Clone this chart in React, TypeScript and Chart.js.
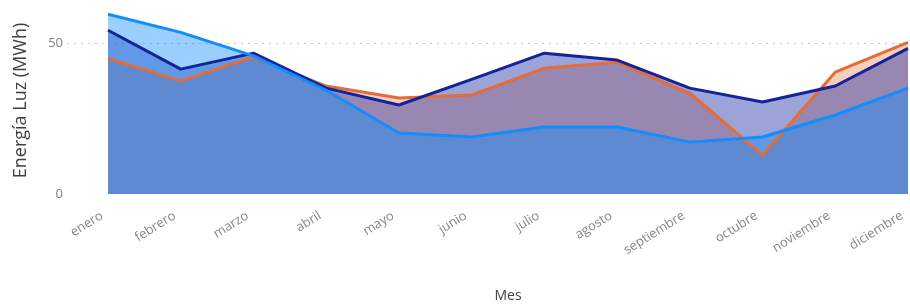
import React, { useEffect, useRef } from "react";
import { Chart, registerables } from "chart.js";

Chart.register(...registerables);

const meses = [
  "enero", "febrero", "marzo", "abril", "mayo", "junio",
  "julio", "agosto", "septiembre", "octubre", "noviembre", "diciembre",
];
const serieAzulClaro = [59.6, 53.6, 45.8, 34.4, 20.2, 18.9, 22.2, 22.2, 17.2, 18.9, 26.2, 35.1];
const serieAzulOscuro = [54.3, 41.4, 46.7, 35.1, 29.5, 38.0, 46.7, 44.4, 35.1, 30.5, 35.8, 48.3];
const serieNaranja = [45.0, 37.5, 45.4, 35.8, 31.8, 32.8, 41.7, 43.7, 33.4, 12.9, 40.4, 50.3];
const yTicks = [0, 50];

const FONT = "'Open Sans', 'Noto Sans', sans-serif";

export default function App() {
  const ref = useRef<HTMLCanvasElement | null>(null);

  useEffect(() => {
    if (!ref.current) return;
    const chart = new Chart(ref.current, {
      type: "line",
      data: {
        labels: meses,
        datasets: [
          {
            label: "Azul claro",
            data: serieAzulClaro,
            borderColor: "#118DFF",
            backgroundColor: "rgba(17,141,255,0.42)",
            fill: "origin",
            borderWidth: 3,
            pointRadius: 0,
            tension: 0,
            borderJoinStyle: "round",
          },
          {
            label: "Azul oscuro",
            data: serieAzulOscuro,
            borderColor: "#12239E",
            backgroundColor: "rgba(18,35,158,0.42)",
            fill: "origin",
            borderWidth: 3,
            pointRadius: 0,
            tension: 0,
            borderJoinStyle: "round",
          },
          {
            label: "Naranja",
            data: serieNaranja,
            borderColor: "#E66C37",
            backgroundColor: "rgba(230,108,55,0.33)",
            fill: "origin",
            borderWidth: 3,
            pointRadius: 0,
            tension: 0,
            borderJoinStyle: "round",
          },
        ],
      },
      options: {
        responsive: false,
        animation: false,
        layout: { padding: { top: 7, right: 2, left: 0, bottom: 0 } },
        plugins: {
          legend: { display: false },
          tooltip: { enabled: false },
          filler: { drawTime: "beforeDatasetsDraw" },
        },
        scales: {
          x: {
            offset: false,
            grid: { display: false },
            border: { display: false },
            ticks: {
              color: "#878787",
              font: { family: FONT, size: 13 },
              maxRotation: 32,
              minRotation: 32,
              autoSkip: false,
              padding: 6,
              labelOffset: -6,
            },
            title: {
              display: true,
              text: "Mes",
              color: "#404040",
              font: { family: FONT, size: 14 },
              padding: { top: 0, bottom: 0 },
            },
            afterFit: (s: any) => {
              s.height = 110;
              s.paddingLeft = 0;
              s.paddingRight = 0;
            },
          },
          y: {
            min: 0,
            max: 62,
            border: { display: false, dash: [2, 5] },
            grid: {
              color: (c: any) => (c.tick && c.tick.value === 50 ? "#c8c8c8" : "rgba(0,0,0,0)"),
              tickColor: (c: any) => (c.tick && c.tick.value === 50 ? "#d0d0d0" : "rgba(0,0,0,0)"),
              tickBorderDash: [2, 5],
              drawTicks: true,
              tickLength: 41,
              lineWidth: 1,
            },
            ticks: {
              color: "#808080",
              font: { family: FONT, size: 13 },
              padding: 4,
            },
            afterBuildTicks: (s: any) => {
              s.ticks = yTicks.map((v) => ({ value: v }));
            },
            title: {
              display: true,
              text: "Energía Luz (MWh)",
              color: "#404040",
              font: { family: FONT, size: 18 },
              padding: { top: 10, bottom: 0 },
            },
            afterFit: (s: any) => {
              s.width = 108;
              s.paddingTop = 0;
              s.paddingBottom = 0;
            },
          },
        },
      },
    });
    return () => chart.destroy();
  }, []);

  return (
    <div style={{ position: "fixed", left: 0, top: 0, width: 910, height: 304, background: "#fff" }}>
      <canvas ref={ref} width={910} height={304} style={{ display: "block" }} />
    </div>
  );
}
